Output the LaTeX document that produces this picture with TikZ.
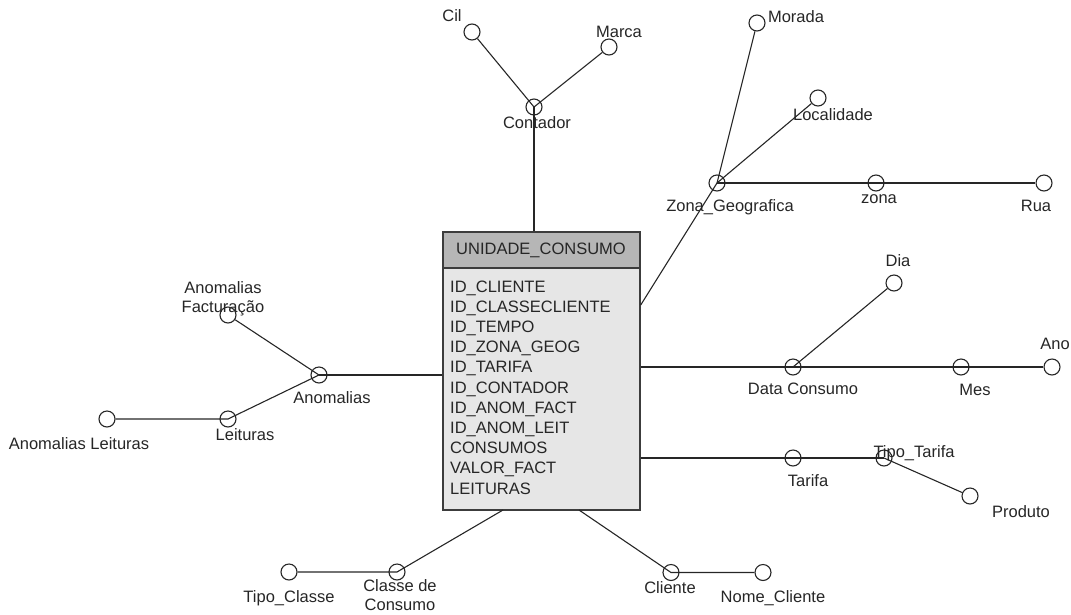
\documentclass[tikz,border=0pt]{standalone}
\usepackage{fontspec}
\setmainfont{Liberation Sans}
\begin{document}
\definecolor{ink}{HTML}{262626}
\definecolor{headfill}{HTML}{B6B6B6}
\definecolor{bodyfill}{HTML}{E6E6E6}
\begin{tikzpicture}[x=1pt,y=-1pt,
  every node/.style={text=ink},
  txt/.style={font=\fontsize{16.5}{19}\selectfont, inner sep=0pt, anchor=base},
  two/.style={font=\fontsize{16.5}{19}\selectfont, inner sep=0pt, anchor=center, align=center},
  field/.style={font=\fontsize{16.5}{20}\selectfont, inner sep=0pt, anchor=base west},
  attr/.style={circle, draw=ink, line width=1.1pt, minimum size=16pt, inner sep=0pt},
  link/.style={draw=ink, line width=1.1pt},
  tbl/.style={draw=ink!90, line width=1.4pt, inner sep=0pt}]
\useasboundingbox (0,0) rectangle (1071,614);

% fact table
\node[tbl, fill=bodyfill, minimum width=197pt, minimum height=278pt] (uc) at (541.5,371) {};
\node[tbl, fill=headfill, minimum width=197pt, minimum height=36pt, anchor=north] (hdr) at (uc.north) {};
\node[txt] (hdrtext) at (541,254) {UNIDADE\_CONSUMO};
\foreach \t [count=\i] in {ID\_CLIENTE, ID\_CLASSECLIENTE, ID\_TEMPO, ID\_ZONA\_GEOG,
  ID\_TARIFA, ID\_CONTADOR, ID\_ANOM\_FACT, ID\_ANOM\_LEIT, CONSUMOS, VALOR\_FACT, LEITURAS}
  \node[field] (f\i) at (450,{292+20.2*(\i-1)}) {\t};

% attribute circles
\node[attr] (cil) at (472,32) {};
\node[attr] (marca) at (609,47) {};
\node[attr] (contador) at (534,107) {};
\node[attr] (morada) at (757,23) {};
\node[attr] (localidade) at (818,98) {};
\node[attr] (zonageo) at (717,183) {};
\node[attr] (zona) at (876,183) {};
\node[attr] (rua) at (1044,183) {};
\node[attr] (dia) at (894,283) {};
\node[attr] (data) at (793,367) {};
\node[attr] (mes) at (961,367) {};
\node[attr] (ano) at (1052,367) {};
\node[attr] (tarifa) at (793,458) {};
\node[attr] (tipotarifa) at (884,458) {};
\node[attr] (produto) at (970,496) {};
\node[attr] (anomfact) at (228,315) {};
\node[attr] (anomalias) at (319,375) {};
\node[attr] (leituras) at (228,419) {};
\node[attr] (anomleit) at (107,419) {};
\node[attr] (tipoclasse) at (289,572) {};
\node[attr] (classe) at (397,572) {};
\node[attr] (cliente) at (671,572.5) {};
\node[attr] (nomecliente) at (763,572.5) {};

% labels
\node[txt] (lcil) at (452,21) {Cil};
\node[txt] (lmarca) at (619,37) {Marca};
\node[txt] (lcontador) at (537,128) {Contador};
\node[txt] (lmorada) at (796,22) {Morada};
\node[txt] (llocalidade) at (833,120) {Localidade};
\node[txt] (lzonageo) at (730,211) {Zona\_Geografica};
\node[txt] (lzona) at (879,203) {zona};
\node[txt] (lrua) at (1036,211) {Rua};
\node[txt] (ldia) at (898,266) {Dia};
\node[txt] (ldata) at (803,394) {Data Consumo};
\node[txt] (lmes) at (975,395) {Mes};
\node[txt] (lano) at (1055,349) {Ano};
\node[txt] (ltarifa) at (808,486) {Tarifa};
\node[txt] (ltipotarifa) at (914,457) {Tipo\_Tarifa};
\node[txt] (lproduto) at (1021,517) {Produto};
\node[two] (lanomfact) at (223,299) {Anomalias\\Facturação};
\node[txt] (lanomalias) at (332,403) {Anomalias};
\node[txt] (lleituras) at (245,440) {Leituras};
\node[txt] (lanomleit) at (79,449) {Anomalias Leituras};
\node[txt] (ltipoclasse) at (289,602) {Tipo\_Classe};
\node[two] (lclasse) at (400,595.5) {Classe de\\Consumo};
\node[txt] (lcliente) at (670,593) {Cliente};
\node[txt] (lnomecliente) at (773,602) {Nome\_Cliente};

% connectors
\path[link] (contador.center |- uc.north) -- (contador.center);
\path[link] (contador.center) -- (cil);
\path[link] (contador.center) -- (marca);

\coordinate (zgin) at (uc.east |- 0,305);
\path[link] (zgin) -- (zonageo.center);
\path[link] (zonageo.center) -- (morada);
\path[link] (zonageo.center) -- (localidade);
\path[link] (zonageo.center) -- (zona.center) -- (rua);

\path[link] (uc.east |- data.center) -- (data.center) -- (mes.center) -- (ano);
\path[link] (data.center) -- (dia);

\path[link] (uc.east |- tarifa.center) -- (tarifa.center) -- (tipotarifa.center);
\path[link] (tipotarifa.center) -- (produto);

\path[link] (uc.west |- anomalias.center) -- (anomalias.center);
\path[link] (anomalias.center) -- (anomfact);
\path[link] (anomalias.center) -- (leituras.center) -- (anomleit);

\coordinate (clin) at (503,510);
\path[link] (clin) -- (classe.center) -- (tipoclasse);
\coordinate (ctin) at (579,510);
\path[link] (ctin) -- (cliente.center) -- (nomecliente);
\end{tikzpicture}
\end{document}
